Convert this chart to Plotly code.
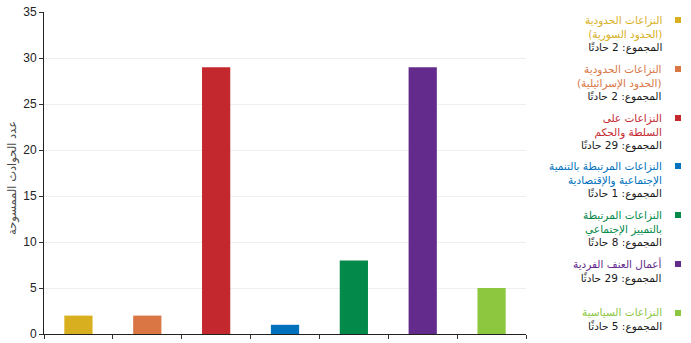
import plotly.graph_objects as go

categories = ["حدود سوريا", "حدود إسرائيل", "السلطة والحكم", "التنمية", "التمييز", "العنف الفردي", "السياسية"]
values = [2, 2, 29, 1, 8, 29, 5]
colors = ["#D8B01F", "#D97644", "#C4282F", "#0071BC", "#03894A", "#632B8C", "#8DC63F"]
label_lines = [
    ["النزاعات الحدودية", "(الحدود السورية)"],
    ["النزاعات الحدودية", "(الحدود الإسرائيلية)"],
    ["النزاعات على", "السلطة والحكم"],
    ["النزاعات المرتبطة بالتنمية", "الإجتماعية والإقتصادية"],
    ["النزاعات المرتبطة", "بالتمييز الإجتماعي"],
    ["أعمال العنف الفردية"],
    ["النزاعات السياسية"],
]
total_prefix = "المجموع: "
total_suffix = " حادثًا"
y_ticks = [0, 5, 10, 15, 20, 25, 30, 35]
y_title = "عدد الحوادث الممسوحة"

W, H = 691, 343
ML, MR, MT, MB = 44, 165, 12, 9
pw, ph = W - ML - MR, H - MT - MB

def px_x(x):
    return (x - ML) / pw

def px_y(y):
    return (H - MB - y) / ph

fig = go.Figure()
fig.add_trace(go.Bar(
    x=categories, y=values, marker=dict(color=colors, line=dict(width=0)),
    width=0.41, showlegend=False,
))

ar_font = "DejaVu Sans"
fs = 10.5
lh = 12.2
annotations = []
shapes = []
entry_tops = [20, 69, 118, 166, 215, 264, 313]
for i, lines in enumerate(label_lines):
    y0 = entry_tops[i]
    parts = [f'<span style="color:{colors[i]}">{t}</span>' for t in lines]
    parts.append(total_prefix + str(values[i]) + total_suffix)
    n = len(parts)
    annotations.append(dict(
        x=px_x(663), y=px_y(y0 + (n - 1) * fs * 1.3 / 2), xref="paper", yref="paper",
        text="<br>".join(parts), showarrow=False, xanchor="right", yanchor="middle",
        align="right", borderpad=0,
        font=dict(family=ar_font, size=fs, color="#1a1a1a"),
    ))
    shapes.append(dict(
        type="rect", xref="paper", yref="paper",
        x0=px_x(675), x1=px_x(681), y0=px_y(y0 - 3), y1=px_y(y0 + 3),
        fillcolor=colors[i], line=dict(width=0),
    ))

annotations.append(dict(
    x=px_x(12), y=px_y(178), xref="paper", yref="paper", text=y_title,
    textangle=-90, showarrow=False, xanchor="center", yanchor="middle",
    font=dict(family=ar_font, size=11.5, color="#4a4a4a"),
))

fig.update_layout(
    width=W, height=H, margin=dict(l=ML, r=MR, t=MT, b=MB, autoexpand=False),
    paper_bgcolor="white", plot_bgcolor="white",
    bargap=0.59,
    annotations=annotations, shapes=shapes,
    xaxis=dict(
        showticklabels=False, tickson="boundaries", ticks="outside", ticklen=4,
        tickcolor="#333", showline=True, linecolor="#222", linewidth=1,
        showgrid=False, zeroline=False, fixedrange=True, automargin=False,
    ),
    yaxis=dict(
        range=[0, 35], tickvals=y_ticks, ticks="outside", ticklen=4, tickcolor="#333",
        showline=True, linecolor="#222", linewidth=1, automargin=False,
        showgrid=True, gridcolor="#efefef", gridwidth=1, zeroline=False,
        tickfont=dict(family="Liberation Sans", size=12, color="#222"),
    ),
)

fig.write_html("out.html")
